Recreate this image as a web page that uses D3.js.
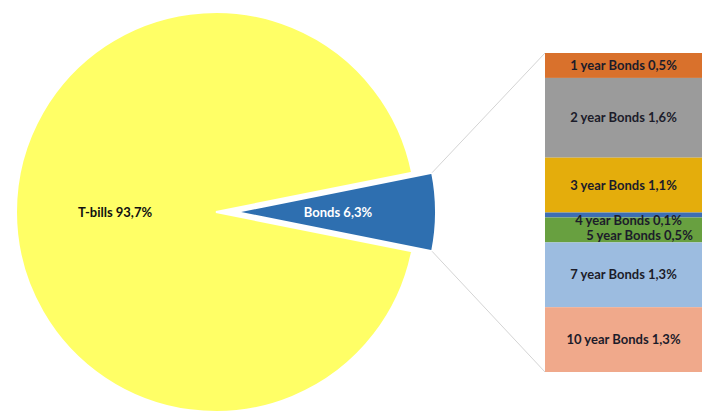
<!DOCTYPE html>
<html><head><meta charset="utf-8">
<script src="https://cdn.jsdelivr.net/npm/d3@7"></script>
<style>body{margin:0;background:#fff}svg{display:block}text{font-family:Lato,"Open Sans",sans-serif;font-weight:bold}</style>
</head><body>
<svg id="c" width="711" height="412"></svg>
<script>
const pieCategories = ["Bonds", "T-bills"];
const pieValues = [6.3, 93.7];
const pieColors = ["#2E6FB0", "#FFFF66"];
const barCategories = ["1 year Bonds", "2 year Bonds", "3 year Bonds", "4 year Bonds", "5 year Bonds", "7 year Bonds", "10 year Bonds"];
const barValues = [0.5, 1.6, 1.1, 0.1, 0.5, 1.3, 1.3];
const barColors = ["#D9712C", "#9B9B9B", "#E4AD0C", "#3D6EB4", "#68A040", "#9CBCE0", "#F0A98B"];

const svg = d3.select("#c");
const fmt = v => d3.format(".1f")(v).replace(".", ",") + "%";

const cx = 216, cy = 212, R = 200, explode = 20;
const a = pieValues[0] / d3.sum(pieValues) * 2 * Math.PI;
const pie = d3.pie().sort(null).value(d => d)
  .startAngle(Math.PI / 2 - a / 2).endAngle(Math.PI / 2 - a / 2 + 2 * Math.PI);
const arcs = pie(pieValues);
const arc = d3.arc().innerRadius(0).outerRadius(R);

const g = svg.append("g").attr("transform", `translate(${cx},${cy})`);
arcs.forEach((d, i) => {
  const mid = (d.startAngle + d.endAngle) / 2;
  const off = i === 0 ? explode : 0;
  const dx = Math.sin(mid) * off, dy = -Math.cos(mid) * off;
  const gg = g.append("g").attr("transform", `translate(${dx},${dy})`);
  gg.append("path").attr("d", arc(d)).attr("fill", pieColors[i])
    .attr("stroke", "#fff").attr("stroke-width", 2).attr("stroke-linejoin", "miter");
});

// labels on pie
svg.append("text").attr("x", 115).attr("y", cy).attr("dy", "0.35em")
  .attr("text-anchor", "middle").attr("font-size", 13).attr("fill", "#111")
  .text(pieCategories[1] + " " + fmt(pieValues[1]));
svg.append("text").attr("x", 338).attr("y", cy).attr("dy", "0.35em")
  .attr("text-anchor", "middle").attr("font-size", 13).attr("fill", "#fff")
  .text(pieCategories[0] + " " + fmt(pieValues[0]));

// bar of pie
const bx0 = 545, bx1 = 702, by0 = 53, by1 = 372;
const y = d3.scaleLinear().domain([0, d3.sum(barValues)]).range([by0, by1]);
let cum = 0;
const stacks = barValues.map(v => { const s = { y0: cum, y1: cum + v }; cum += v; return s; });

// connector lines
const bMid = Math.PI / 2;
const ex = cx + Math.sin(bMid) * explode, ey = cy;
const topPt = [ex + R * Math.sin(arcs[0].startAngle), ey - R * Math.cos(arcs[0].startAngle)];
const botPt = [ex + R * Math.sin(arcs[0].endAngle), ey - R * Math.cos(arcs[0].endAngle)];
svg.append("line").attr("x1", topPt[0]).attr("y1", topPt[1]).attr("x2", bx0).attr("y2", y(0))
  .attr("stroke", "#d4d4d4").attr("stroke-width", 1);
svg.append("line").attr("x1", botPt[0]).attr("y1", botPt[1]).attr("x2", bx0).attr("y2", y(cum))
  .attr("stroke", "#d4d4d4").attr("stroke-width", 1);

svg.selectAll("rect.bar").data(stacks).enter().append("rect").attr("class", "bar")
  .attr("x", bx0).attr("width", bx1 - bx0)
  .attr("y", d => y(d.y0)).attr("height", d => y(d.y1) - y(d.y0))
  .attr("fill", (d, i) => barColors[i]);

const labelShift = [[0, 0], [0, 0], [0, 0], [5, 5], [16, 6], [0, 0], [0, 0]];
svg.selectAll("text.bl").data(stacks).enter().append("text").attr("class", "bl")
  .attr("x", (d, i) => (bx0 + bx1) / 2 + labelShift[i][0])
  .attr("y", (d, i) => (y(d.y0) + y(d.y1)) / 2 + labelShift[i][1])
  .attr("dy", "0.35em").attr("text-anchor", "middle").attr("font-size", 13)
  .attr("fill", "#1c1c2a")
  .text((d, i) => barCategories[i] + " " + fmt(barValues[i]));
</script>
</body></html>
